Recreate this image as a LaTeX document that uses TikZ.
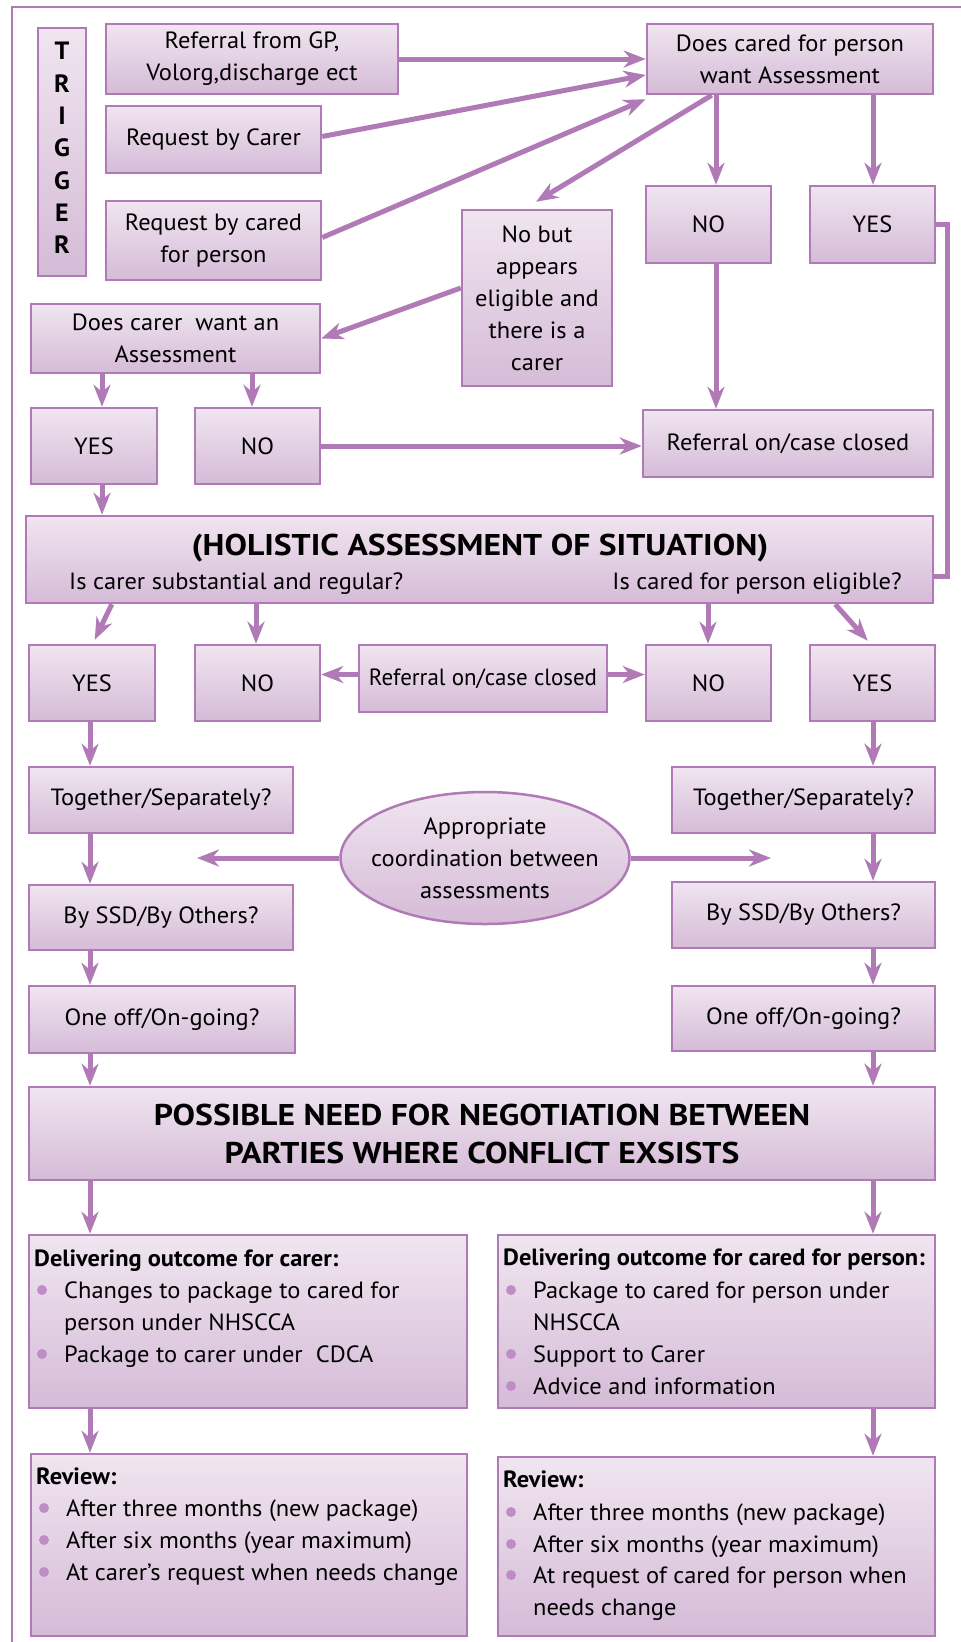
\documentclass[tikz,border=0pt]{standalone}
\usepackage{fontspec}
\setmainfont{PT Sans}[FakeStretch=1.04]
\newfontfamily\titlefont{PT Sans}[FakeStretch=1.12]
\usetikzlibrary{arrows.meta,shapes.geometric,calc}
\definecolor{pline}{HTML}{B07AB6}
\definecolor{ptop}{HTML}{F0E5F0}
\definecolor{pbot}{HTML}{D5BBD7}
\definecolor{pdot}{HTML}{C08CC6}
\newcommand{\bodyfont}{\fontsize{23.5}{32}\selectfont}
\newcommand{\bigfont}{\titlefont\fontsize{30}{38}\selectfont\bfseries}
\newcommand{\flowbox}[6]{\node[box, minimum width={#4-#2}, minimum height={#5-#3}] (#1) at ({(#2+#4)/2},{(#3+#5)/2}) {#6};}
\begin{document}
\begin{tikzpicture}[x=1pt,y=-1pt,
  box/.style={draw=pline, line width=2.5pt, top color=ptop, bottom color=pbot, inner sep=0pt, align=center, font=\bodyfont, text=black},
  conn/.style={draw=pline, line width=5pt, -{Stealth[length=22pt,width=17pt,inset=7pt]}},
  plainline/.style={draw=pline, line width=4.5pt},
  txt/.style={font=\bodyfont, inner sep=0pt, anchor=base west, text=black},
  hdr/.style={font=\bodyfont\bfseries, inner sep=0pt, anchor=base west, text=black},
  bul/.style={circle, fill=pdot, minimum size=10pt, inner sep=0pt}
]
\useasboundingbox (0,0) rectangle (961,1642);
% frame
\draw[pline, line width=2pt] (12,1642) -- (12,7) -- (961,7);

% boxes
\flowbox{trig}{38}{28}{86}{276}{}
\node[font=\fontsize{25}{32.3}\selectfont\bfseries, align=center, inner sep=0pt] (trigtxt) at (62,148) {T\\R\\I\\G\\G\\E\\R};
\flowbox{refgp}{106}{24}{398}{94}{Referral from GP,\\Volorg,discharge ect}
\flowbox{reqcarer}{106}{106}{321}{173}{Request by Carer}
\flowbox{reqcared}{106}{201}{321}{280}{Request by cared\\for person}
\flowbox{doescared}{647}{24}{933}{94}{Does cared for person\\want Assessment}
\flowbox{noA}{646}{186}{771}{263}{NO}
\flowbox{yesA}{810}{186}{935}{263}{YES}
\flowbox{nobut}{462}{210}{612}{386}{No but\\appears\\eligible and\\there is a\\carer}
\flowbox{doescarer}{31}{304}{320}{373}{Does carer\ \ want an\\Assessment}
\flowbox{yesB}{31}{408}{157}{484}{YES}
\flowbox{noB}{195}{408}{320}{484}{NO}
\flowbox{refA}{643}{410}{933}{477}{Referral on/case closed}
\flowbox{holistic}{26}{516}{933}{603}{}
\node[font=\bigfont, inner sep=0pt, anchor=base] (holtitle) at (480,555) {(HOLISTIC ASSESSMENT OF SITUATION)};
\node[txt] (holL) at (69,589) {Is carer substantial and regular?};
\node[txt, anchor=base east] (holR) at (902,589) {Is cared for person eligible?};
\flowbox{yesC}{29}{645}{155}{721}{YES}
\flowbox{noC}{195}{645}{320}{721}{NO}
\flowbox{refB}{359}{645}{607}{712}{\scalebox{0.94}[1]{Referral on/case closed}}
\flowbox{noD}{646}{645}{771}{721}{NO}
\flowbox{yesD}{810}{645}{935}{721}{YES}
\flowbox{togL}{29}{767}{293}{833}{Together/Separately?}
\flowbox{togR}{672}{767}{935}{833}{Together/Separately?}
\node[box, ellipse, minimum width=289pt, minimum height=132pt] (ell) at (485,858) {};
\node[font=\bodyfont, align=center, inner sep=0pt] (elltxt) at (485,858) {Appropriate\\coordination between\\assessments};
\flowbox{ssdL}{29}{885}{293}{950}{By SSD/By Others?}
\flowbox{ssdR}{672}{882}{935}{948}{By SSD/By Others?}
\flowbox{oneL}{29}{986}{295}{1053}{One off/On-going?}
\flowbox{oneR}{672}{986}{935}{1051}{One off/On-going?}
\node[box, font=\bigfont, minimum width=906pt, minimum height=93pt] (possible) at (482,1133.5) {POSSIBLE NEED FOR NEGOTIATION BETWEEN\\PARTIES WHERE CONFLICT EXSISTS};
\flowbox{delL}{29}{1235}{467}{1408}{}
\flowbox{delR}{498}{1235}{935}{1408}{}
\flowbox{revL}{31}{1454}{467}{1636}{}
\flowbox{revR}{498}{1457}{935}{1636}{}

% list texts
\node[hdr] (dlh) at (34,1266) {Delivering outcome for carer:};
\node[bul] (dlb1) at (42,1290) {};
\node[txt] (dl1) at (64,1298) {Changes to package to cared for};
\node[txt] (dl1b) at (64,1330) {person under NHSCCA};
\node[bul] (dlb2) at (42,1354) {};
\node[txt] (dl2) at (64,1362) {Package to carer under\ \ CDCA};

\node[hdr] (drh) at (503,1265) {Delivering outcome for cared for person:};
\node[bul] (drb1) at (511,1290) {};
\node[txt] (dr1) at (533,1298) {Package to cared for person under};
\node[txt] (dr1b) at (533,1330) {NHSCCA};
\node[bul] (drb2) at (511,1354) {};
\node[txt] (dr2) at (533,1362) {Support to Carer};
\node[bul] (drb3) at (511,1386) {};
\node[txt] (dr3) at (533,1394) {Advice and information};

\node[hdr] (rlh) at (36,1484) {Review:};
\node[bul] (rlb1) at (44,1508) {};
\node[txt] (rl1) at (66,1516) {After three months (new package)};
\node[bul] (rlb2) at (44,1540) {};
\node[txt] (rl2) at (66,1548) {After six months (year maximum)};
\node[bul] (rlb3) at (44,1572) {};
\node[txt] (rl3) at (66,1580) {At carer's request when needs change};

\node[hdr] (rrh) at (503,1487) {Review:};
\node[bul] (rrb1) at (511,1512) {};
\node[txt] (rr1) at (533,1520) {After three months (new package)};
\node[bul] (rrb2) at (511,1544) {};
\node[txt] (rr2) at (533,1552) {After six months (year maximum)};
\node[bul] (rrb3) at (511,1575) {};
\node[txt] (rr3) at (533,1583) {At request of cared for person when};
\node[txt] (rr3b) at (533,1615) {needs change};

% column coordinates
\coordinate (cA) at (716,0);
\coordinate (cB) at (873,0);
\coordinate (c1) at (102,0);
\coordinate (c2) at (252,0);
\coordinate (c2b) at (256,0);
\coordinate (c3) at (708,0);
\coordinate (cL) at (90,0);
\coordinate (cR) at (873,0);
\coordinate (eL) at (197,0);
\coordinate (eR) at (771,0);

% connectors
\draw[conn] (refgp.east) -- (doescared.west);
\draw[conn] ($(reqcarer.east)+(0,-3)$) -- ($(doescared.west)+(0,16)$);
\draw[conn] ($(reqcared.east)+(0,-3)$) -- ($(doescared.south west)+(0,4)$);
\draw[conn] ($(doescared.south west)+(66,0)$) -- ($(nobut.north)+(-1,-7)$);
\draw[conn] (doescared.south -| cA) -- (noA.north -| cA);
\draw[conn] (doescared.south -| cB) -- (yesA.north -| cB);
\draw[conn] (noA.south -| cA) -- (refA.north -| cA);
\draw[plainline] (yesA.east) -| ($(holistic.east)+(13,17)$) -- ($(holistic.east)+(0,17)$);
\draw[conn] ($(nobut.west)+(0,-10)$) -- (doescarer.east);
\draw[conn] (doescarer.south -| c1) -- (yesB.north -| c1);
\draw[conn] (doescarer.south -| c2) -- (noB.north -| c2);
\draw[conn] (noB.east) -- (noB.east -| refA.west);
\draw[conn] (yesB.south -| c1) -- (holistic.north -| c1);
\draw[conn] ($(holistic.south west)+(87,0)$) -- ($(yesC.north west)+(67,-4)$);
\draw[conn] (holistic.south -| c2b) -- (noC.north -| c2b);
\draw[conn] (holistic.south -| c3) -- (noD.north -| c3);
\draw[conn] ($(holistic.south east)+(-99,0)$) -- ($(yesD.north west)+(59,-3)$);
\coordinate (r2w) at ($(refB.west)+(0,-4)$);
\coordinate (r2e) at ($(refB.east)+(0,-4)$);
\draw[conn] (r2w) -- (r2w -| noC.east);
\draw[conn] (r2e) -- (r2e -| noD.west);
\draw[conn] (yesC.south -| cL) -- (togL.north -| cL);
\draw[conn] (yesD.south -| cR) -- (togR.north -| cR);
\draw[conn] (togL.south -| cL) -- (ssdL.north -| cL);
\draw[conn] (togR.south -| cR) -- (ssdR.north -| cR);
\draw[conn] (ell.west) -- (ell.west -| eL);
\draw[conn] (ell.east) -- (ell.east -| eR);
\draw[conn] (ssdL.south -| cL) -- (oneL.north -| cL);
\draw[conn] (ssdR.south -| cR) -- (oneR.north -| cR);
\draw[conn] (oneL.south -| cL) -- (possible.north -| cL);
\draw[conn] (oneR.south -| cR) -- (possible.north -| cR);
\draw[conn] (possible.south -| cL) -- (delL.north -| cL);
\draw[conn] (possible.south -| cR) -- (delR.north -| cR);
\draw[conn] (delL.south -| cL) -- (revL.north -| cL);
\draw[conn] (delR.south -| cR) -- (revR.north -| cR);
\end{tikzpicture}
\end{document}
